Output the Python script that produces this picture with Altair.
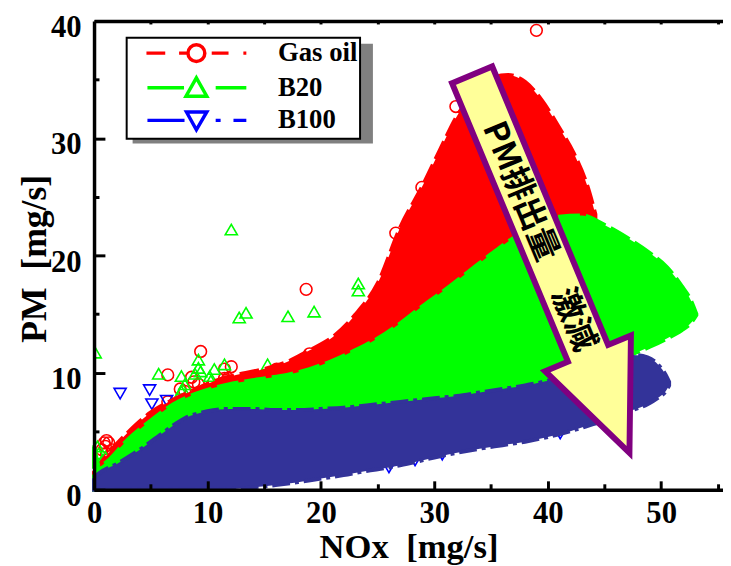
import altair as alt
import pandas as pd

# ---------------- data ----------------
# envelope of Gas oil (red) region
red_x = [0, 1, 3, 5, 7, 9, 11, 13, 15, 17, 19, 21, 23, 25, 27, 29, 30.5, 32, 33.5, 35, 36.5, 38, 39.5, 41, 42.3, 43.5, 44.2]
red_top = [1.5, 2.8, 4.9, 6.6, 7.7, 8.6, 9.4, 9.9, 10.3, 10.9, 11.9, 13.0, 14.9, 17.6, 22.4, 26.0, 29.0, 31.9, 33.9, 35.1, 35.4, 34.8, 33.2, 30.9, 28.7, 25.9, 23.5]
red_bottom = [0, 0, 0, 0, 0, 0, 0, 1.1, 1.3, 1.5, 1.8, 2.1, 2.4, 2.75, 3.1, 3.5, 3.9, 4.2, 4.45, 4.7, 4.9, 5.15, 5.35, 5.75, 6.1, 6.5, 6.7]

# envelope of B20 (green) region
green_x = [0, 0.5, 1, 3, 5, 7, 9, 11, 13, 15, 17, 19, 21, 23, 25, 27, 29, 31, 33, 35, 37, 39, 41, 43, 45, 47, 49, 50.5, 51.8, 52.6, 53.1]
green_top = [3.8, 2.0, 2.3, 4.3, 5.9, 7.3, 8.2, 8.8, 9.2, 9.5, 9.8, 10.3, 11.0, 11.9, 12.9, 14.2, 15.7, 17.1, 18.6, 20.1, 21.5, 22.6, 23.3, 23.4, 22.6, 21.5, 20.2, 19.0, 17.4, 16.2, 15.0]
green_bottom = [0, 0, 0, 0, 0, 0, 0, 0, 0.8, 1.0, 1.2, 1.5, 1.8, 2.1, 2.45, 2.8, 3.2, 3.7, 4.1, 4.4, 4.7, 5.0, 5.4, 7.5, 10.8, 11.4, 12.2, 12.9, 13.6, 14.2, 14.9]

# envelope of B100 (blue) region
blue_x = [0, 0.3, 2, 4, 6, 8, 10, 12, 14, 16, 18, 20, 22, 24, 26, 28, 30, 32, 34, 36, 38, 40, 42, 44, 46, 47.5, 48.8, 49.8, 50.4, 50.7]
blue_top = [1.0, 1.3, 2.2, 3.4, 4.8, 6.1, 6.7, 6.9, 6.9, 6.8, 6.8, 6.9, 7.0, 7.2, 7.4, 7.6, 7.8, 8.0, 8.3, 8.6, 8.9, 9.3, 9.8, 10.4, 11.1, 11.5, 11.3, 10.6, 9.8, 9.2]
blue_bottom = [0, 0, 0, 0, 0, 0, 0, 0.05, 0.2, 0.4, 0.65, 0.95, 1.25, 1.6, 1.9, 2.3, 2.75, 3.15, 3.5, 3.8, 4.1, 4.5, 5.0, 5.6, 6.2, 6.8, 7.3, 7.9, 8.4, 8.9]

# scatter points
gas_x = [39.0, 31.9, 28.9, 26.6, 18.7, 19.0, 16.1, 9.4, 6.5, 7.6, 8.6, 8.8, 8.0, 9.2, 11.5, 12.1, 11.5, 11.8, 6.5, 1.1, 0.9, 1.0, 1.3, 1.6, 0.7, 1.1]
gas_y = [39.2, 32.7, 25.8, 21.9, 17.1, 11.6, 10.3, 11.8, 9.8, 8.6, 9.6, 9.2, 8.4, 9.0, 10.3, 10.5, 9.5, 9.5, 7.5, 4.2, 4.0, 3.7, 4.0, 3.4, 3.4, 3.1]
b20_x = [12.1, 12.8, 13.4, 17.1, 19.4, 23.3, 23.3, 15.3, 0.1, 5.7, 7.7, 7.8, 8.0, 7.7, 9.2, 9.2, 9.4, 10.2, 10.6, 11.5, 10.3, 8.9, 0.4, 1.0, 0.7, 0.3]
b20_y = [22.2, 14.7, 15.1, 14.8, 15.2, 17.6, 17.0, 10.7, 11.7, 9.9, 9.7, 8.6, 9.0, 8.4, 11.1, 10.4, 10.1, 9.7, 10.3, 10.7, 9.3, 9.9, 3.1, 2.8, 2.5, 3.7]
b100_x = [2.3, 4.9, 5.1, 6.4, 26.0, 28.3, 30.7, 41.1, 0.2]
b100_y = [8.2, 8.5, 7.3, 7.6, 1.9, 2.5, 3.0, 4.8, 0.5]

series_names = ["Gas oil", "B20", "B100"]
series_colors = ["#FF0000", "#00FF00", "#0000FF"]
legend_paths = [
    "M-5.05,0H-3.15M-1.75,0H-0.85M1.55,0H3.25M4.75,0H5.05M0.85,0A0.85,0.85 0 1,1 -0.85,0A0.85,0.85 0 1,1 0.85,0",
    "M-4.95,0H-1.25M1.95,0H5.05M0,-1.0L1.05,0.85L-1.05,0.85Z",
    "M-4.95,0H-1.2M1.95,0H2.45M3.75,0H5.05M-1.0,-0.85L1.05,-0.85L0,0.95Z",
]
# footprint of one legend row, used by the drop-shadow legend
shadow_path = "M-5.05,-0.8H16.1V0.8H-5.05Z"

x_ticks_major = [0, 10, 20, 30, 40, 50]
x_ticks_minor = [5, 15, 25, 35, 45, 55]
y_ticks_major = [0, 10, 20, 30, 40]
y_ticks_minor = [5, 15, 25, 35]

arrow_x = [40.3]
arrow_y = [19.2]
arrow_label_x = [39.2]
arrow_label_y = [21.6]
arrow_label = ["PM排出量\u3000激減"]

# ---------------- layout constants ----------------
W, H = 636, 474
SERIF = "Liberation Serif"
x_scale = alt.Scale(domain=[0, 55.45], nice=False, zero=False)
y_scale = alt.Scale(domain=[0, 40], nice=False, zero=False)

main_x_axis = alt.Axis(orient="bottom", title="NOx\u00a0\u00a0[mg/s]", values=x_ticks_major,
                       ticks=False, tickSize=0, labelPadding=9, labelFlush=False, labelOverlap=False,
                       labelFont=SERIF, labelFontSize=31, labelFontWeight="bold", labelColor="black",
                       titleFont=SERIF, titleFontSize=35, titleFontWeight="bold", titleColor="black",
                       titleY=58, titleBaseline="middle",
                       domainColor="black", domainWidth=3.5, grid=False, zindex=2)
main_y_axis = alt.Axis(orient="left", title="PM\u00a0\u00a0[mg/s]", values=y_ticks_major,
                       ticks=False, tickSize=0, labelPadding=13, labelFlush=False, labelOverlap=False,
                       labelOffset=7,
                       labelFont=SERIF, labelFontSize=31, labelFontWeight="bold", labelColor="black",
                       titleFont=SERIF, titleFontSize=36, titleFontWeight="bold", titleColor="black",
                       titleX=-60, titleY=240, titleAngle=270, titleBaseline="middle",
                       domainColor="black", domainWidth=3.5, grid=False, zindex=2)


def tick_axis(orient, offset, values, size, domain=False):
    return alt.Axis(orient=orient, offset=offset, values=values, tickSize=size, tickWidth=3,
                    tickColor="black", labels=False, domain=domain, domainColor="black",
                    domainWidth=3.5, grid=False, title=None, zindex=2)


def pts(xs, ys):
    return pd.DataFrame({"x": xs, "y": ys})


def band(xs, top, bottom):
    return pd.DataFrame({"x": xs, "top": top, "bottom": bottom})


# scatter layers (drawn beneath the envelopes)
gas_layer = alt.Chart(pts(gas_x, gas_y)).mark_point(
    shape="circle", filled=False, color="#FF0000", size=140, strokeWidth=1.6, opacity=1, clip=True
).encode(
    x=alt.X("x:Q", scale=x_scale, axis=main_x_axis),
    y=alt.Y("y:Q", scale=y_scale, axis=main_y_axis),
)
b20_layer = alt.Chart(pts(b20_x, b20_y)).mark_point(
    shape="triangle-up", filled=False, color="#00FF00", size=150, strokeWidth=1.6, opacity=1, clip=True
).encode(
    x=alt.X("x:Q", scale=x_scale, axis=tick_axis("top", -H, x_ticks_major, 9)),
    y=alt.Y("y:Q", scale=y_scale, axis=tick_axis("right", -W, y_ticks_major, 11)),
)
b100_layer = alt.Chart(pts(b100_x, b100_y)).mark_point(
    shape="triangle-down", filled=False, color="#0000FF", size=150, strokeWidth=1.6, opacity=1, clip=True
).encode(
    x=alt.X("x:Q", scale=x_scale, axis=tick_axis("top", -H, x_ticks_minor, 6)),
    y=alt.Y("y:Q", scale=y_scale, axis=tick_axis("right", -W, y_ticks_minor, 5)),
)

# envelopes
red_area = alt.Chart(band(red_x, red_top, red_bottom)).mark_area(
    color="#FF0000", stroke="#FF0000", strokeWidth=4, strokeDash=[20, 6], interpolate="monotone", opacity=1
).encode(
    x=alt.X("x:Q", scale=x_scale,
            axis=tick_axis("bottom", -H, x_ticks_major[1:] + x_ticks_minor, 3, domain=True)),
    y=alt.Y("top:Q", scale=y_scale, axis=None),
    y2="bottom:Q",
)
green_area = alt.Chart(band(green_x, green_top, green_bottom)).mark_area(
    color="#00FF00", stroke="#00FF00", strokeWidth=4, strokeDash=[22, 6], interpolate="monotone", opacity=1
).encode(
    x=alt.X("x:Q", scale=x_scale, axis=None),
    y=alt.Y("top:Q", scale=y_scale, axis=None),
    y2="bottom:Q",
)
blue_area = alt.Chart(band(blue_x, blue_top, blue_bottom)).mark_area(
    color="#333399", stroke="#333399", strokeWidth=4, strokeDash=[18, 5, 4, 5], interpolate="monotone", opacity=1
).encode(
    x=alt.X("x:Q", scale=x_scale, axis=None),
    y=alt.Y("top:Q", scale=y_scale, axis=None),
    y2="bottom:Q",
)

# annotation arrow and its text
arrow_path = "M-0.22,-2.08L0.22,-2.08L0.22,0.97L0.47,0.97L0,2.06L-0.47,0.97L-0.22,0.97Z"
arrow = alt.Chart(pts(arrow_x, arrow_y)).mark_point(
    shape=arrow_path, size=40000, angle=337.4, filled=True, fill="#FFFF99",
    stroke="#800080", strokeWidth=6, opacity=1, strokeJoin="miter"
).encode(
    x=alt.X("x:Q", scale=x_scale, axis=None),
    y=alt.Y("y:Q", scale=y_scale, axis=None),
)
arrow_text = alt.Chart(pd.DataFrame({"x": arrow_label_x, "y": arrow_label_y, "t": arrow_label})).mark_text(
    angle=67.4, font="Noto Sans CJK JP", fontWeight="bold", fontSize=33, color="black",
    align="center", baseline="middle"
).encode(
    x=alt.X("x:Q", scale=x_scale, axis=None),
    y=alt.Y("y:Q", scale=y_scale, axis=None),
    text="t:N",
)

# legend (with drop shadow)
legend_df = pd.DataFrame({"series": series_names})
common_legend = dict(orient="none", title=None, labelFont=SERIF, labelFontSize=27, labelFontWeight="bold",
                     symbolSize=400, symbolStrokeWidth=3.5, symbolOffset=55, labelOffset=69,
                     padding=2, rowPadding=2, labelLimit=300)
main_legend = alt.Legend(legendX=33, legendY=17, fillColor="white", strokeColor="black", labelColor="black",
                         zindex=2, **common_legend)
shadow_legend = alt.Legend(legendX=40, legendY=24, fillColor="#808080", strokeColor="#808080",
                           labelColor="#808080", labelExpr="''", zindex=1, **common_legend)

legend_layer = alt.Chart(legend_df).mark_point(filled=False, opacity=1, clip=True).encode(
    x=alt.value(-500), y=alt.value(-500),
    color=alt.Color("series:N", scale=alt.Scale(domain=series_names, range=series_colors), legend=main_legend),
    shape=alt.Shape("series:N", scale=alt.Scale(domain=series_names, range=legend_paths), legend=main_legend),
)
shadow_layer = alt.Chart(legend_df).mark_point(filled=False, opacity=1, clip=True, color="#808080").encode(
    x=alt.value(-500), y=alt.value(-500),
    shape=alt.Shape("series:N", scale=alt.Scale(domain=series_names, range=[shadow_path] * 3),
                    legend=shadow_legend),
)

chart = alt.layer(
    gas_layer, b20_layer, b100_layer, red_area, green_area, blue_area, arrow, arrow_text,
    shadow_layer, legend_layer,
).resolve_axis(x="independent", y="independent").resolve_scale(
    color="independent", shape="independent"
).properties(
    width=W, height=H, padding={"left": 9, "top": 1, "right": 0, "bottom": 0}, background="white"
).configure_view(stroke=None).configure_legend(strokeWidth=2)

chart.save("out.html", embed_options={"renderer": "svg", "actions": False})
